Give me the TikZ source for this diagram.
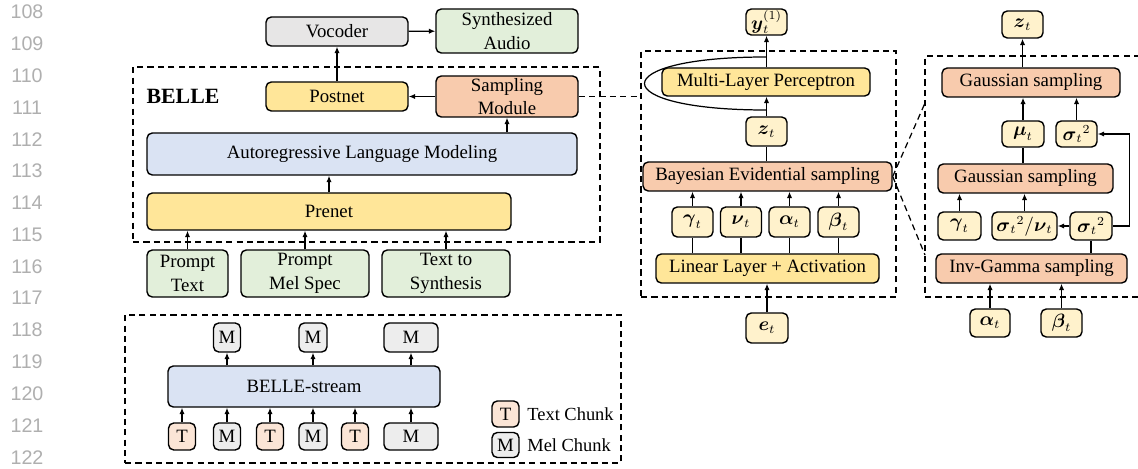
\documentclass[tikz,border=0pt]{standalone}
\usepackage{fontspec}
\setmainfont{Liberation Serif}
\newfontfamily\numfont{Liberation Sans}
\usepackage{amsmath}
\usetikzlibrary{arrows.meta}

\definecolor{cgris}{RGB}{231,230,230}
\definecolor{cgrisc}{RGB}{237,237,237}
\definecolor{cvert}{RGB}{226,239,218}
\definecolor{cjaune}{RGB}{255,230,153}
\definecolor{corange}{RGB}{248,203,173}
\definecolor{cbleu}{RGB}{218,227,243}
\definecolor{cparam}{RGB}{255,242,204}
\definecolor{cpeche}{RGB}{251,229,214}
\definecolor{cnum}{RGB}{175,175,175}

\def\pxu{0.02} % taille d'un pixel (cm)

\tikzset{
	taille/.style 2 args={minimum width=#1*\pxu cm, minimum height=#2*\pxu cm},
	bloc/.style={draw, rounded corners=3pt, line width=0.8pt, inner sep=0pt, align=center, font=\fontsize{10.7}{13.3}\selectfont},
	param/.style={bloc, fill=cparam},
	cadre/.style={draw, dash pattern=on 3.5pt off 2.4pt, line width=0.7pt, inner sep=0pt},
	tirets/.style={dash pattern=on 3.5pt off 2.4pt, line width=0.7pt},
	fleche/.style={-{Latex[length=3.6pt,width=3pt]}, line width=0.7pt},
	trait/.style={line width=0.7pt},
	numero/.style={font=\numfont\fontsize{11.2}{12}\selectfont, text=cnum, inner sep=1pt},
}

\begin{document}
\begin{tikzpicture}[x=0.02cm, y=-0.02cm]

	\useasboundingbox (0,0) rectangle (1138,469);

	% numeros de ligne
	\foreach \i in {0,...,14} {
		\pgfmathtruncatemacro{\num}{108+\i}
		\node[numero] (ligne\num) at (27, 12+31.8*\i) {\num};
	}

	% BELLE
	\node[cadre, taille={467}{175}] (cbelle) at (366.5,154.5) {};
	\node[font=\bfseries\fontsize{12.4}{14}\selectfont] (titre) at (183,96) {BELLE};
	\node[bloc, fill=cgris, taille={142}{29}] (vocoder) at (337,31.5) {Vocoder};
	\node[bloc, fill=cvert, taille={142}{44}] (audio) at (507,31) {Synthesized\\Audio};
	\node[bloc, fill=cjaune, taille={142}{29}] (postnet) at (337,96.5) {Postnet};
	\node[bloc, fill=corange, taille={142}{41}] (samp) at (507,96.5) {Sampling\\Module};
	\node[bloc, fill=cbleu, taille={430}{42}] (ar) at (362,154) {Autoregressive Language Modeling};
	\node[bloc, fill=cjaune, taille={364}{37}] (prenet) at (329,211.5) {Prenet};
	\node[bloc, fill=cvert, taille={81}{47}] (ptext) at (187.5,273.5) {Prompt\\Text};
	\node[bloc, fill=cvert, taille={128}{47}] (pmel) at (305,273.5) {Prompt\\Mel Spec};
	\node[bloc, fill=cvert, taille={128}{47}] (tts) at (446,273.5) {Text to\\Synthesis};

	\draw[fleche] (postnet) -- (vocoder);
	\draw[fleche] (vocoder) -- (audio);
	\draw[fleche] (samp) -- (postnet);
	\draw[fleche] (ar.north -| samp) -- (samp);
	\draw[fleche] (prenet) -- (prenet |- ar.south);
	\foreach \nom in {ptext, pmel, tts}
		\draw[fleche] (\nom) -- (\nom |- prenet.south);

	% module d'echantillonnage
	\node[cadre, taille={255}{246}] (cmil) at (768.5,174) {};
	\draw[tirets] (samp) -- (samp -| cmil.west);
	\node[param, taille={41}{26}] (y1) at (766.5,22) {$\boldsymbol{y}_t^{(1)}$};
	\node[bloc, fill=cjaune, taille={208}{28}] (mlp) at (766,82) {Multi-Layer Perceptron};
	\node[param, taille={41}{29}] (zt) at (766.5,131.5) {$\boldsymbol{z}_t$};
	\node[bloc, fill=corange, taille={249}{29}] (bes) at (767.5,176.5) {Bayesian Evidential sampling};
	\node[bloc, fill=cjaune, taille={223}{29}] (ll) at (767.5,268.5) {Linear Layer + Activation};
	\node[param, taille={42}{30}] (et) at (767,328) {$\boldsymbol{e}_t$};

	\foreach \nom/\x/\sym in {gam/692.5/\gamma, nu/741/\nu, alpha/789.5/\alpha, beta/838.5/\beta} {
		\node[param, taille={41}{30}] (\nom) at (\x,222) {$\boldsymbol{\sym}_t$};
		\draw[trait] (ll.north -| \nom) -- (\nom);
		\draw[fleche] (\nom) -- (\nom |- bes.south);
	}
	\draw[fleche] (et) -- (et |- ll.south);
	\draw[trait] (bes.north -| zt) -- (zt);
	\draw[fleche] (zt) -- (zt |- mlp.south);
	\draw[fleche] (mlp.north -| y1) -- (y1);
	\coordinate (bouclebas) at (766,110);
	\coordinate (bouclehaut) at (766,57);
	\draw[trait] (bouclebas) .. controls (604,110) and (604,57) .. (bouclehaut);

	% detail de l'echantillonnage
	\draw[tirets] (1140,56) -| (925,297) -- (1140,297);
	\coordinate (zoomhaut) at (925,103);
	\coordinate (zoombas) at (925,255);
	\draw[tirets] (bes.east) -- (zoomhaut);
	\draw[tirets] (bes.east) -- (zoombas);

	\node[param, taille={41}{27}] (zt2) at (1022.5,24.5) {$\boldsymbol{z}_t$};
	\node[bloc, fill=corange, taille={178}{29}] (gs1) at (1031,82.5) {Gaussian sampling};
	\node[param, taille={42}{26}] (mu) at (1023,134) {$\boldsymbol{\mu}_t$};
	\node[param, taille={41}{26}] (sig1) at (1076.5,134) {${\boldsymbol{\sigma}_t}^2$};
	\node[bloc, fill=corange, taille={175}{29}] (gs2) at (1025.5,178.5) {Gaussian sampling};
	\node[param, taille={43}{28}] (gam2) at (959.5,226) {$\boldsymbol{\gamma}_t$};
	\node[param, taille={65}{28}] (signu) at (1024.5,226) {${\boldsymbol{\sigma}_t}^2/\boldsymbol{\nu}_t$};
	\node[param, taille={42}{28}] (sig2) at (1091,226) {${\boldsymbol{\sigma}_t}^2$};
	\node[bloc, fill=corange, taille={191}{29}] (ig) at (1031.5,268.5) {Inv-Gamma sampling};
	\node[param, taille={40}{28}] (al2) at (990,323) {$\boldsymbol{\alpha}_t$};
	\node[param, taille={41}{28}] (be2) at (1061.5,323) {$\boldsymbol{\beta}_t$};

	\draw[fleche] (gs1.north -| zt2) -- (zt2);
	\draw[fleche] (mu) -- (mu |- gs1.south);
	\draw[fleche] (sig1) -- (sig1 |- gs1.south);
	\draw[trait] (gs2.north -| mu) -- (mu);
	\draw[fleche] (gam2) -- (gam2 |- gs2.south);
	\draw[fleche] (signu) -- (signu |- gs2.south);
	\draw[fleche] (sig2) -- (signu);
	\draw[fleche] (sig2.east) -- ++(17,0) |- (sig1.east);
	\draw[trait] (ig.north -| sig2) -- (sig2);
	\draw[fleche] (al2) -- (al2 |- ig.south);
	\draw[fleche] (be2) -- (be2 |- ig.south);

	% BELLE-stream
	\node[cadre, taille={496}{148}] (cbas) at (373,389) {};
	\node[bloc, fill=cbleu, taille={272}{41}] (stream) at (304,386.5) {BELLE-stream};
	\foreach \nom/\x/\w/\coul/\lab in {1/182/27/cpeche/T, 2/227/27/cgrisc/M, 3/270/27/cpeche/T, 4/313/28/cgrisc/M, 5/355/27/cpeche/T, 6/411/54/cgrisc/M} {
		\node[bloc, fill=\coul, taille={\w}{27}] (in\nom) at (\x,436.5) {\lab};
		\draw[fleche] (in\nom) -- (in\nom |- stream.south);
	}
	\foreach \nom/\x/\w in {1/227/27, 2/313/28, 3/411/54} {
		\node[bloc, fill=cgrisc, taille={\w}{29}] (out\nom) at (\x,337.5) {M};
		\draw[fleche] (stream.north -| out\nom) -- (out\nom);
	}

	% legende
	\node[bloc, fill=cpeche, taille={27}{26}] (legT) at (505.5,414) {T};
	\node[bloc, fill=cgrisc, taille={27}{25}] (legM) at (505.5,445) {M};
	\node[anchor=west, inner sep=0pt, font=\fontsize{10.5}{12}\selectfont] (legTtxt) at (527,414) {Text Chunk};
	\node[anchor=west, inner sep=0pt, font=\fontsize{10.5}{12}\selectfont] (legMtxt) at (527,445) {Mel Chunk};

\end{tikzpicture}
\end{document}
